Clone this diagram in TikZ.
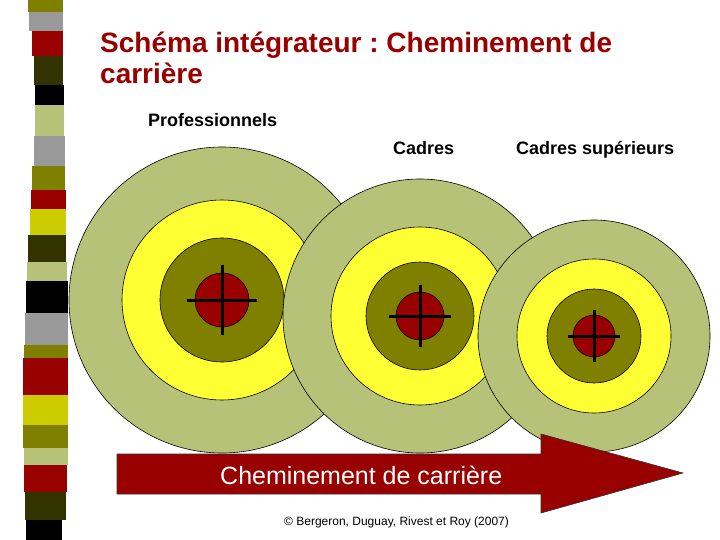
\documentclass[tikz,border=0pt]{standalone}
\usepackage{fontspec}
\setmainfont{Liberation Sans}
\usepackage{tikz}
\frenchspacing

\definecolor{ringgreen}{RGB}{183,194,121}
\definecolor{ringyellow}{RGB}{255,255,51}
\definecolor{ringolive}{RGB}{128,128,0}
\definecolor{ringred}{RGB}{153,0,0}
\definecolor{stripegray}{RGB}{153,153,153}
\definecolor{stripedark}{RGB}{51,51,0}
\definecolor{stripeyellow}{RGB}{204,204,0}

\begin{document}
\begin{tikzpicture}[x=1pt,y=-1pt]

	\tikzstyle ring=[draw=black, line width=0.6pt];
	\tikzstyle cross lines=[line width=3pt, draw=black];
	\tikzstyle label text=[inner sep=0pt, anchor=base west, font=\fontsize{18}{20}\selectfont\bfseries];
	\tikzstyle title text=[inner sep=0pt, anchor=base west, text=ringred, font=\fontsize{28}{31}\selectfont\bfseries];

	\useasboundingbox (0,0) rectangle (720,540);

	% left stripes
	\fill[ringolive] (28,0) rectangle (63,12);
	\fill[stripegray] (29,12) rectangle (63,31);
	\fill[ringred] (32,31) rectangle (63,56);
	\fill[stripedark] (34,56) rectangle (63,85);
	\fill[black] (35,85) rectangle (64,105);
	\fill[ringgreen] (35,105) rectangle (64,136);
	\fill[stripegray] (34,136) rectangle (65,166);
	\fill[ringolive] (32,166) rectangle (65,190);
	\fill[ringred] (31,190) rectangle (66,209);
	\fill[stripeyellow] (30,209) rectangle (66,235);
	\fill[stripedark] (28,235) rectangle (66,262);
	\fill[ringgreen] (27,262) rectangle (67,281);
	\fill[black] (26,281) rectangle (68,313);
	\fill[stripegray] (25,313) rectangle (68,345);
	\fill[ringolive] (24,345) rectangle (68,358);
	\fill[ringred] (23,358) rectangle (68,395);
	\fill[stripeyellow] (23,395) rectangle (68,425);
	\fill[ringolive] (23,425) rectangle (68,448);
	\fill[ringgreen] (24,448) rectangle (68,465);
	\fill[ringred] (24,465) rectangle (67,492);
	\fill[stripedark] (25,492) rectangle (66,520);
	\fill[black] (26,520) rectangle (62,540);

	% title and labels
	\node[title text] (title) at (100,53) {Schéma intégrateur : Cheminement de};
	\node[title text] (title2) at (100,84) {carrière};
	\node[label text] (pro) at (148,127) {Professionnels};
	\node[label text] (cadres) at (393,155) {Cadres};
	\node[label text] (cadressup) at (516,155) {Cadres supérieurs};

	% targets
	\coordinate (t1) at (222,300);
	\filldraw[ring, fill=ringgreen] (t1) circle (153);
	\filldraw[ring, fill=ringyellow] (t1) circle (100);
	\filldraw[ring, fill=ringolive] (t1) circle (62);
	\filldraw[ring, fill=ringred] (t1) circle (27);
	\draw[cross lines] (t1) ++(-35,0) -- ++(70,0);
	\draw[cross lines] (t1) ++(0,-35) -- ++(0,70);

	\coordinate (t2) at (420,316);
	\filldraw[ring, fill=ringgreen] (t2) circle (137);
	\filldraw[ring, fill=ringyellow] (t2) circle (89);
	\filldraw[ring, fill=ringolive] (t2) circle (54);
	\filldraw[ring, fill=ringred] (t2) circle (24);
	\draw[cross lines] (t2) ++(-31,0) -- ++(62,0);
	\draw[cross lines] (t2) ++(0,-31) -- ++(0,62);

	\coordinate (t3) at (594,336);
	\filldraw[ring, fill=ringgreen] (t3) circle (116);
	\filldraw[ring, fill=ringyellow] (t3) circle (77);
	\filldraw[ring, fill=ringolive] (t3) circle (47);
	\filldraw[ring, fill=ringred] (t3) circle (21);
	\draw[cross lines] (t3) ++(-26,0) -- ++(52,0);
	\draw[cross lines] (t3) ++(0,-26) -- ++(0,52);

	% big arrow
	\filldraw[fill=ringred, draw=black!80, line width=0.6pt] (117,454) -- (541,454) -- (541,434) -- (683,473) -- (541,513) -- (541,494) -- (117,494) -- cycle;
	\node[inner sep=0pt, anchor=base west, text=white, font=\fontsize{25}{28}\selectfont] (chemin) at (220,484) {Cheminement de carrière};

	\node[inner sep=0pt, anchor=base west, font=\fontsize{12}{14}\selectfont] (source) at (284,525) {© Bergeron, Duguay, Rivest et Roy (2007)};

\end{tikzpicture}
\end{document}
